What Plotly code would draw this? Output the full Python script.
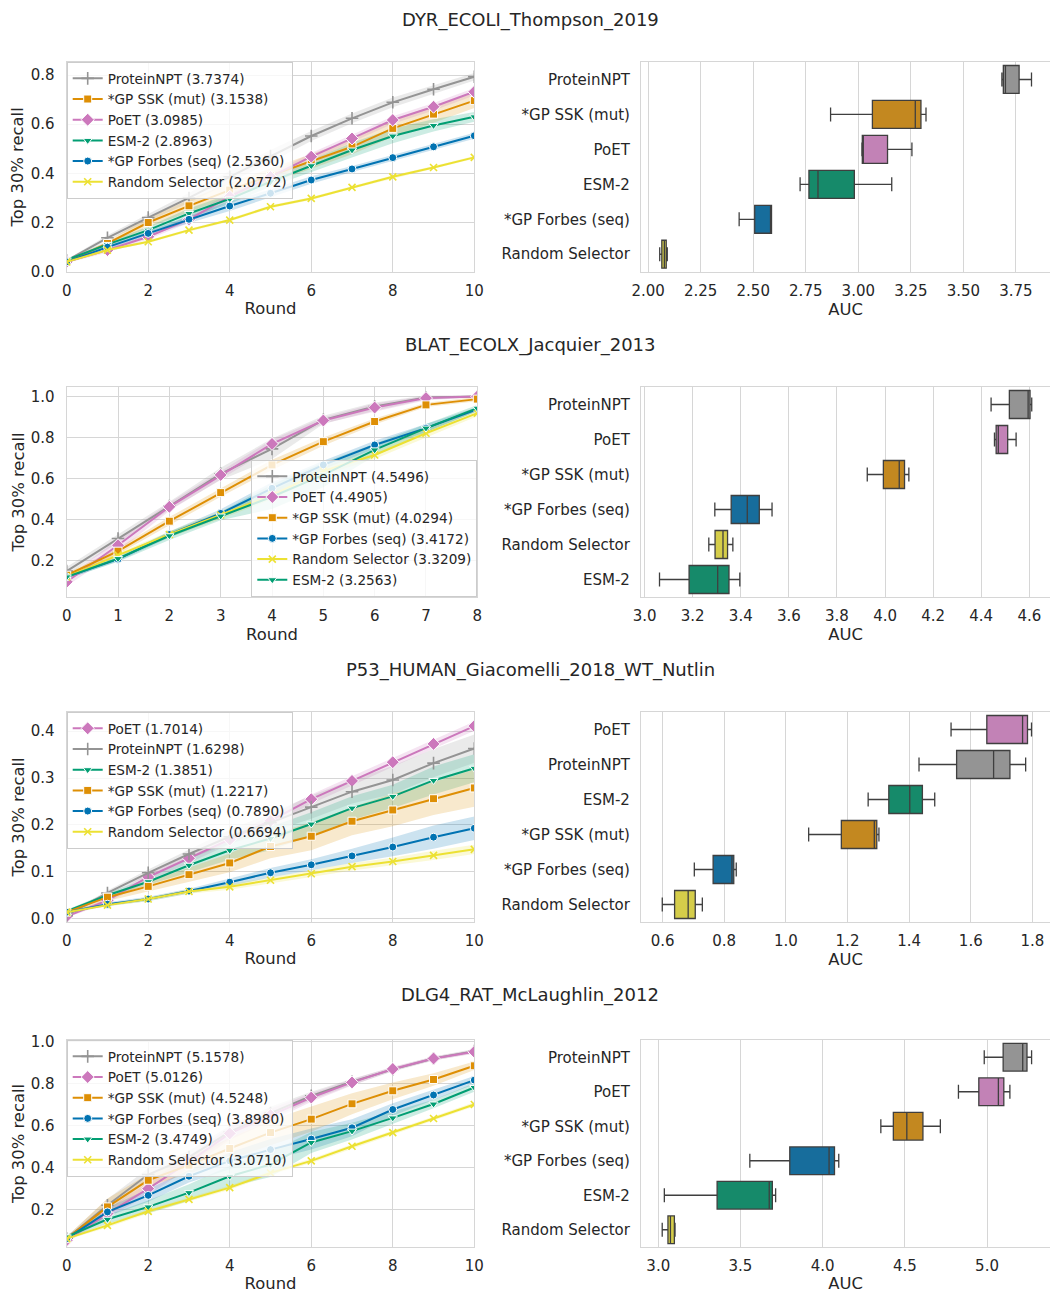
import plotly.graph_objects as go

# ---------------- data ----------------
ROUNDS_10 = list(range(11))
ROUNDS_8 = list(range(9))

# ---- DYR_ECOLI_Thompson_2019 ----
DYR_TITLE = "DYR_ECOLI_Thompson_2019"
DYR_ORDER = ["ProteinNPT", "*GP SSK (mut)", "PoET", "ESM-2", "*GP Forbes (seq)", "Random Selector"]
DYR_AUC = {"ProteinNPT": "3.7374", "*GP SSK (mut)": "3.1538", "PoET": "3.0985",
           "ESM-2": "2.8963", "*GP Forbes (seq)": "2.5360", "Random Selector": "2.0772"}
DYR_MEAN = {
    "ProteinNPT":       [0.045, 0.138, 0.220, 0.300, 0.386, 0.470, 0.552, 0.624, 0.689, 0.742, 0.793],
    "*GP SSK (mut)":    [0.040, 0.115, 0.200, 0.268, 0.332, 0.390, 0.448, 0.508, 0.583, 0.641, 0.696],
    "PoET":             [0.040, 0.088, 0.142, 0.213, 0.305, 0.385, 0.468, 0.542, 0.617, 0.671, 0.732],
    "ESM-2":            [0.048, 0.111, 0.169, 0.237, 0.296, 0.366, 0.431, 0.495, 0.552, 0.595, 0.630],
    "*GP Forbes (seq)": [0.040, 0.100, 0.156, 0.213, 0.267, 0.319, 0.373, 0.418, 0.464, 0.508, 0.553],
    "Random Selector":  [0.040, 0.088, 0.122, 0.169, 0.210, 0.264, 0.298, 0.343, 0.386, 0.424, 0.465],
}
DYR_CI = {
    "ProteinNPT":       [0.005, 0.010, 0.015, 0.020, 0.025, 0.025, 0.020, 0.020, 0.020, 0.018, 0.015],
    "*GP SSK (mut)":    [0.005, 0.010, 0.020, 0.025, 0.030, 0.030, 0.030, 0.030, 0.035, 0.035, 0.030],
    "PoET":             [0.005, 0.010, 0.010, 0.015, 0.015, 0.015, 0.015, 0.015, 0.015, 0.015, 0.015],
    "ESM-2":            [0.005, 0.010, 0.015, 0.020, 0.020, 0.020, 0.025, 0.030, 0.030, 0.025, 0.020],
    "*GP Forbes (seq)": [0.005, 0.010, 0.010, 0.015, 0.020, 0.015, 0.015, 0.012, 0.012, 0.012, 0.012],
    "Random Selector":  [0.003, 0.005, 0.005, 0.006, 0.006, 0.006, 0.006, 0.006, 0.006, 0.006, 0.006],
}
# [lower whisker, q1, median, q3, upper whisker]
DYR_BOX = {
    "ProteinNPT":       [3.683, 3.690, 3.700, 3.765, 3.824],
    "*GP SSK (mut)":    [2.868, 3.067, 3.271, 3.298, 3.322],
    "PoET":             [3.017, 3.019, 3.020, 3.139, 3.255],
    "ESM-2":            [2.723, 2.765, 2.808, 2.981, 3.159],
    "*GP Forbes (seq)": [2.433, 2.507, 2.585, 2.587, 2.587],
    "Random Selector":  [2.055, 2.065, 2.077, 2.086, 2.091],
}

# ---- BLAT_ECOLX_Jacquier_2013 ----
BLAT_TITLE = "BLAT_ECOLX_Jacquier_2013"
BLAT_ORDER = ["ProteinNPT", "PoET", "*GP SSK (mut)", "*GP Forbes (seq)", "Random Selector", "ESM-2"]
BLAT_AUC = {"ProteinNPT": "4.5496", "PoET": "4.4905", "*GP SSK (mut)": "4.0294",
            "*GP Forbes (seq)": "3.4172", "Random Selector": "3.3209", "ESM-2": "3.2563"}
BLAT_MEAN = {
    "ProteinNPT":       [0.150, 0.309, 0.467, 0.623, 0.745, 0.886, 0.951, 0.995, 1.000],
    "PoET":             [0.098, 0.276, 0.463, 0.618, 0.769, 0.883, 0.946, 0.992, 1.000],
    "*GP SSK (mut)":    [0.130, 0.247, 0.393, 0.532, 0.667, 0.780, 0.878, 0.959, 0.987],
    "*GP Forbes (seq)": [0.122, 0.208, 0.328, 0.431, 0.553, 0.667, 0.764, 0.846, 0.938],
    "Random Selector":  [0.122, 0.228, 0.328, 0.423, 0.520, 0.637, 0.715, 0.821, 0.919],
    "ESM-2":            [0.122, 0.211, 0.322, 0.418, 0.512, 0.618, 0.740, 0.846, 0.943],
}
BLAT_CI = {
    "ProteinNPT":       [0.020, 0.020, 0.020, 0.030, 0.050, 0.020, 0.020, 0.010, 0.005],
    "PoET":             [0.020, 0.030, 0.020, 0.020, 0.020, 0.015, 0.020, 0.010, 0.005],
    "*GP SSK (mut)":    [0.010, 0.015, 0.020, 0.020, 0.025, 0.020, 0.015, 0.010, 0.010],
    "*GP Forbes (seq)": [0.010, 0.010, 0.015, 0.020, 0.030, 0.020, 0.020, 0.020, 0.010],
    "Random Selector":  [0.010, 0.010, 0.015, 0.020, 0.020, 0.020, 0.020, 0.020, 0.015],
    "ESM-2":            [0.010, 0.015, 0.020, 0.020, 0.060, 0.060, 0.030, 0.020, 0.015],
}
BLAT_BOX = {
    "ProteinNPT":       [4.441, 4.517, 4.595, 4.603, 4.610],
    "PoET":             [4.455, 4.462, 4.471, 4.510, 4.545],
    "*GP SSK (mut)":    [3.926, 3.993, 4.059, 4.081, 4.099],
    "*GP Forbes (seq)": [3.292, 3.360, 3.427, 3.477, 3.530],
    "Random Selector":  [3.267, 3.293, 3.326, 3.345, 3.367],
    "ESM-2":            [3.062, 3.185, 3.304, 3.351, 3.396],
}

# ---- P53_HUMAN_Giacomelli_2018_WT_Nutlin ----
P53_TITLE = "P53_HUMAN_Giacomelli_2018_WT_Nutlin"
P53_ORDER = ["PoET", "ProteinNPT", "ESM-2", "*GP SSK (mut)", "*GP Forbes (seq)", "Random Selector"]
P53_AUC = {"PoET": "1.7014", "ProteinNPT": "1.6298", "ESM-2": "1.3851",
           "*GP SSK (mut)": "1.2217", "*GP Forbes (seq)": "0.7890", "Random Selector": "0.6694"}
P53_MEAN = {
    "PoET":             [0.005, 0.039, 0.089, 0.129, 0.169, 0.209, 0.255, 0.294, 0.334, 0.373, 0.411],
    "ProteinNPT":       [0.007, 0.055, 0.098, 0.138, 0.175, 0.205, 0.238, 0.271, 0.296, 0.332, 0.363],
    "ESM-2":            [0.016, 0.050, 0.079, 0.114, 0.146, 0.171, 0.202, 0.236, 0.261, 0.295, 0.321],
    "*GP SSK (mut)":    [0.014, 0.046, 0.069, 0.094, 0.119, 0.154, 0.176, 0.208, 0.232, 0.256, 0.279],
    "*GP Forbes (seq)": [0.014, 0.031, 0.042, 0.059, 0.078, 0.098, 0.115, 0.134, 0.153, 0.174, 0.193],
    "Random Selector":  [0.014, 0.029, 0.042, 0.058, 0.068, 0.082, 0.096, 0.111, 0.122, 0.135, 0.148],
}
P53_CI = {
    "PoET":             [0.003, 0.005, 0.008, 0.010, 0.010, 0.010, 0.010, 0.010, 0.010, 0.010, 0.010],
    "ProteinNPT":       [0.003, 0.005, 0.007, 0.010, 0.015, 0.020, 0.025, 0.025, 0.030, 0.030, 0.030],
    "ESM-2":            [0.003, 0.005, 0.008, 0.015, 0.020, 0.025, 0.025, 0.025, 0.025, 0.030, 0.030],
    "*GP SSK (mut)":    [0.003, 0.008, 0.010, 0.015, 0.020, 0.025, 0.030, 0.030, 0.035, 0.035, 0.040],
    "*GP Forbes (seq)": [0.003, 0.004, 0.005, 0.005, 0.008, 0.010, 0.012, 0.015, 0.020, 0.025, 0.025],
    "Random Selector":  [0.003, 0.003, 0.004, 0.005, 0.006, 0.006, 0.007, 0.008, 0.008, 0.010, 0.010],
}
P53_BOX = {
    "PoET":             [1.536, 1.652, 1.768, 1.784, 1.797],
    "ProteinNPT":       [1.432, 1.554, 1.674, 1.727, 1.778],
    "ESM-2":            [1.267, 1.334, 1.402, 1.443, 1.483],
    "*GP SSK (mut)":    [1.074, 1.180, 1.287, 1.295, 1.302],
    "*GP Forbes (seq)": [0.703, 0.764, 0.825, 0.831, 0.839],
    "Random Selector":  [0.599, 0.639, 0.683, 0.706, 0.729],
}

# ---- DLG4_RAT_McLaughlin_2012 ----
DLG4_TITLE = "DLG4_RAT_McLaughlin_2012"
DLG4_ORDER = ["ProteinNPT", "PoET", "*GP SSK (mut)", "*GP Forbes (seq)", "ESM-2", "Random Selector"]
DLG4_AUC = {"ProteinNPT": "5.1578", "PoET": "5.0126", "*GP SSK (mut)": "4.5248",
            "*GP Forbes (seq)": "3.8980", "ESM-2": "3.4749", "Random Selector": "3.0710"}
DLG4_MEAN = {
    "ProteinNPT":       [0.062, 0.221, 0.367, 0.450, 0.570, 0.660, 0.742, 0.809, 0.868, 0.920, 0.955],
    "PoET":             [0.054, 0.181, 0.300, 0.427, 0.563, 0.650, 0.734, 0.806, 0.870, 0.920, 0.952],
    "*GP SSK (mut)":    [0.062, 0.213, 0.340, 0.412, 0.491, 0.567, 0.631, 0.704, 0.766, 0.820, 0.885],
    "*GP Forbes (seq)": [0.062, 0.189, 0.268, 0.359, 0.432, 0.486, 0.536, 0.590, 0.677, 0.746, 0.817],
    "ESM-2":            [0.070, 0.154, 0.213, 0.281, 0.359, 0.415, 0.520, 0.574, 0.637, 0.703, 0.782],
    "Random Selector":  [0.062, 0.125, 0.192, 0.249, 0.305, 0.375, 0.432, 0.502, 0.567, 0.634, 0.701],
}
DLG4_CI = {
    "ProteinNPT":       [0.010, 0.030, 0.030, 0.030, 0.030, 0.030, 0.020, 0.015, 0.010, 0.010, 0.010],
    "PoET":             [0.010, 0.020, 0.030, 0.030, 0.030, 0.030, 0.020, 0.015, 0.010, 0.010, 0.010],
    "*GP SSK (mut)":    [0.010, 0.040, 0.030, 0.040, 0.050, 0.060, 0.060, 0.050, 0.040, 0.030, 0.020],
    "*GP Forbes (seq)": [0.010, 0.020, 0.030, 0.030, 0.040, 0.050, 0.050, 0.040, 0.030, 0.025, 0.020],
    "ESM-2":            [0.010, 0.020, 0.030, 0.040, 0.050, 0.060, 0.050, 0.040, 0.030, 0.020, 0.020],
    "Random Selector":  [0.005, 0.010, 0.010, 0.010, 0.010, 0.010, 0.010, 0.010, 0.010, 0.010, 0.010],
}
DLG4_BOX = {
    "ProteinNPT":       [4.983, 5.098, 5.217, 5.243, 5.271],
    "PoET":             [4.826, 4.950, 5.069, 5.102, 5.139],
    "*GP SSK (mut)":    [4.354, 4.430, 4.512, 4.610, 4.716],
    "*GP Forbes (seq)": [3.557, 3.800, 4.039, 4.072, 4.098],
    "ESM-2":            [3.037, 3.358, 3.675, 3.694, 3.714],
    "Random Selector":  [3.024, 3.059, 3.074, 3.098, 3.102],
}

# ---------------- styles ----------------
LINE_COLORS = {"ProteinNPT": "#949494", "*GP SSK (mut)": "#de8f05", "PoET": "#cc78bc",
               "ESM-2": "#029e73", "*GP Forbes (seq)": "#0173b2", "Random Selector": "#ece133"}
BOX_COLORS = {"ProteinNPT": "#949494", "*GP SSK (mut)": "#c38820", "PoET": "#c282b6",
              "ESM-2": "#168a6a", "*GP Forbes (seq)": "#176d9c", "Random Selector": "#d5cd4a"}
SYMBOLS = {"ProteinNPT": ("cross-thin", 9), "*GP SSK (mut)": ("square", 8), "PoET": ("diamond", 10),
           "ESM-2": ("triangle-down", 8), "*GP Forbes (seq)": ("circle", 8), "Random Selector": ("x-thin", 7)}

W, H = 1050, 1293
TXT = "#262626"
GRID = "#d6d6d6"
FONT = "DejaVu Sans"


def rgba(hexc, a):
    h = hexc.lstrip("#")
    return "rgba(%d,%d,%d,%.2f)" % (int(h[0:2], 16), int(h[2:4], 16), int(h[4:6], 16), a)


ROWS = [
    dict(title=DYR_TITLE, rounds=ROUNDS_10, order=DYR_ORDER, auc=DYR_AUC, mean=DYR_MEAN, ci=DYR_CI, box=DYR_BOX,
         top=62, bot=271.7, lright=474.3, yr=[0.0, 0.853], ytv=[0.0, 0.2, 0.4, 0.6, 0.8], xdt=2,
         br=[1.966, 3.912], bdt=0.25, bfmt=".2f", leg="tl", ttl=20),
    dict(title=BLAT_TITLE, rounds=ROUNDS_8, order=BLAT_ORDER, auc=BLAT_AUC, mean=BLAT_MEAN, ci=BLAT_CI, box=BLAT_BOX,
         top=387, bot=597, lright=477.3, yr=[0.024, 1.046], ytv=[0.2, 0.4, 0.6, 0.8, 1.0], xdt=1,
         br=[2.985, 4.686], bdt=0.2, bfmt=".1f", leg="br", ttl=345),
    dict(title=P53_TITLE, rounds=ROUNDS_10, order=P53_ORDER, auc=P53_AUC, mean=P53_MEAN, ci=P53_CI, box=P53_BOX,
         top=712, bot=922, lright=474.3, yr=[-0.007, 0.441], ytv=[0.0, 0.1, 0.2, 0.3, 0.4], xdt=2,
         br=[0.53, 1.857], bdt=0.2, bfmt=".1f", leg="tl", ttl=670),
    dict(title=DLG4_TITLE, rounds=ROUNDS_10, order=DLG4_ORDER, auc=DLG4_AUC, mean=DLG4_MEAN, ci=DLG4_CI, box=DLG4_BOX,
         top=1040, bot=1247, lright=474.3, yr=[0.022, 1.008], ytv=[0.2, 0.4, 0.6, 0.8, 1.0], xdt=2,
         br=[2.895, 5.383], bdt=0.5, bfmt=".1f", leg="tl", ttl=995),
]

fig = go.Figure()
layout = dict(width=W, height=H, margin=dict(l=0, r=0, t=0, b=0), template="none",
              paper_bgcolor="white", plot_bgcolor="white", showlegend=True,
              font=dict(family=FONT, color=TXT, size=15), boxmode="overlay", annotations=[])

LEFT_X0 = 66.7
RIGHT_X0 = 641.0

for i, r in enumerate(ROWS):
    nl, nr = 2 * i + 1, 2 * i + 2
    xl = "x" if nl == 1 else "x%d" % nl
    yl = "y" if nl == 1 else "y%d" % nl
    xr, yr_ = "x%d" % nr, "y%d" % nr
    legname = "legend" if i == 0 else "legend%d" % (i + 1)
    ydom = [1 - r["bot"] / H, 1 - r["top"] / H]

    # CI bands first
    for m in r["order"]:
        mu, hw = r["mean"][m], r["ci"][m]
        up = [a + b for a, b in zip(mu, hw)]
        lo = [a - b for a, b in zip(mu, hw)]
        fig.add_trace(go.Scatter(x=r["rounds"] + r["rounds"][::-1], y=up + lo[::-1], fill="toself",
                                 fillcolor=rgba(LINE_COLORS[m], 0.2), line=dict(width=0),
                                 mode="lines", hoverinfo="skip", showlegend=False, xaxis=xl, yaxis=yl))
    # lines
    for m in r["order"]:
        sym, sz = SYMBOLS[m]
        thin = sym.endswith("-thin")
        fig.add_trace(go.Scatter(
            x=r["rounds"], y=r["mean"][m], mode="lines+markers",
            name="%s (%s)" % (m, r["auc"][m]),
            line=dict(color=LINE_COLORS[m], width=2),
            marker=dict(symbol=sym, size=sz, color=LINE_COLORS[m],
                        line=dict(color=LINE_COLORS[m] if thin else "white", width=1.6 if thin else 1)),
            xaxis=xl, yaxis=yl, legend=legname))
    # boxes
    for m in r["order"]:
        lw, q1, med, q3, uw = r["box"][m]
        fig.add_trace(go.Box(y=[m], q1=[q1], median=[med], q3=[q3], lowerfence=[lw], upperfence=[uw],
                             orientation="h", fillcolor=BOX_COLORS[m], line=dict(color="#3f3f3f", width=1.3),
                             width=0.8, whiskerwidth=0.5, boxpoints=False, showlegend=False,
                             hoverinfo="skip", xaxis=xr, yaxis=yr_))

    axcommon = dict(showline=True, linecolor=GRID, linewidth=1.2, showgrid=True, gridcolor=GRID, gridwidth=1,
                    zeroline=False, ticks="outside", tickcolor="rgba(0,0,0,0)", automargin=False,
                    tickfont=dict(size=15, color=TXT, family=FONT))
    layout["xaxis" if nl == 1 else "xaxis%d" % nl] = dict(
        axcommon, domain=[LEFT_X0 / W, r["lright"] / W], anchor=yl, range=[r["rounds"][0], r["rounds"][-1]],
        dtick=r["xdt"], tick0=0, ticklen=5, mirror=True,
        title=dict(text="Round", font=dict(size=16.4, color=TXT), standoff=3))
    layout["yaxis" if nl == 1 else "yaxis%d" % nl] = dict(
        axcommon, domain=ydom, anchor=xl, range=r["yr"], tickvals=r["ytv"], tickformat=".1f", ticklen=8,
        mirror=True, title=dict(text="Top 30% recall", font=dict(size=16.4, color=TXT), standoff=2))
    layout["xaxis%d" % nr] = dict(
        axcommon, domain=[RIGHT_X0 / W, 1.0], anchor=yr_, range=r["br"], dtick=r["bdt"], tick0=0,
        tickformat=r["bfmt"], ticklen=5, mirror=True,
        title=dict(text="AUC", font=dict(size=16.4, color=TXT), standoff=3))
    layout["yaxis%d" % nr] = dict(
        axcommon, domain=ydom, anchor=xr, type="category", categoryorder="array",
        categoryarray=r["order"], range=[5.5, -0.5], showgrid=False, ticklen=7, mirror=False)

    legbox = dict(bgcolor="rgba(255,255,255,0.8)", bordercolor="#cccccc", borderwidth=1,
                  font=dict(size=13.6, color=TXT, family=FONT), tracegroupgap=0)
    if r["leg"] == "tl":
        legbox.update(x=LEFT_X0 / W, y=ydom[1], xanchor="left", yanchor="top")
    else:
        legbox.update(x=r["lright"] / W, y=ydom[0], xanchor="right", yanchor="bottom")
    layout[legname] = legbox

    layout["annotations"].append(dict(text=r["title"], x=530 / W, y=1 - r["ttl"] / H, xref="paper", yref="paper",
                                      xanchor="center", yanchor="middle", showarrow=False,
                                      font=dict(size=18, color=TXT, family=FONT)))

fig.update_layout(**layout)
fig.write_html("out.html")
